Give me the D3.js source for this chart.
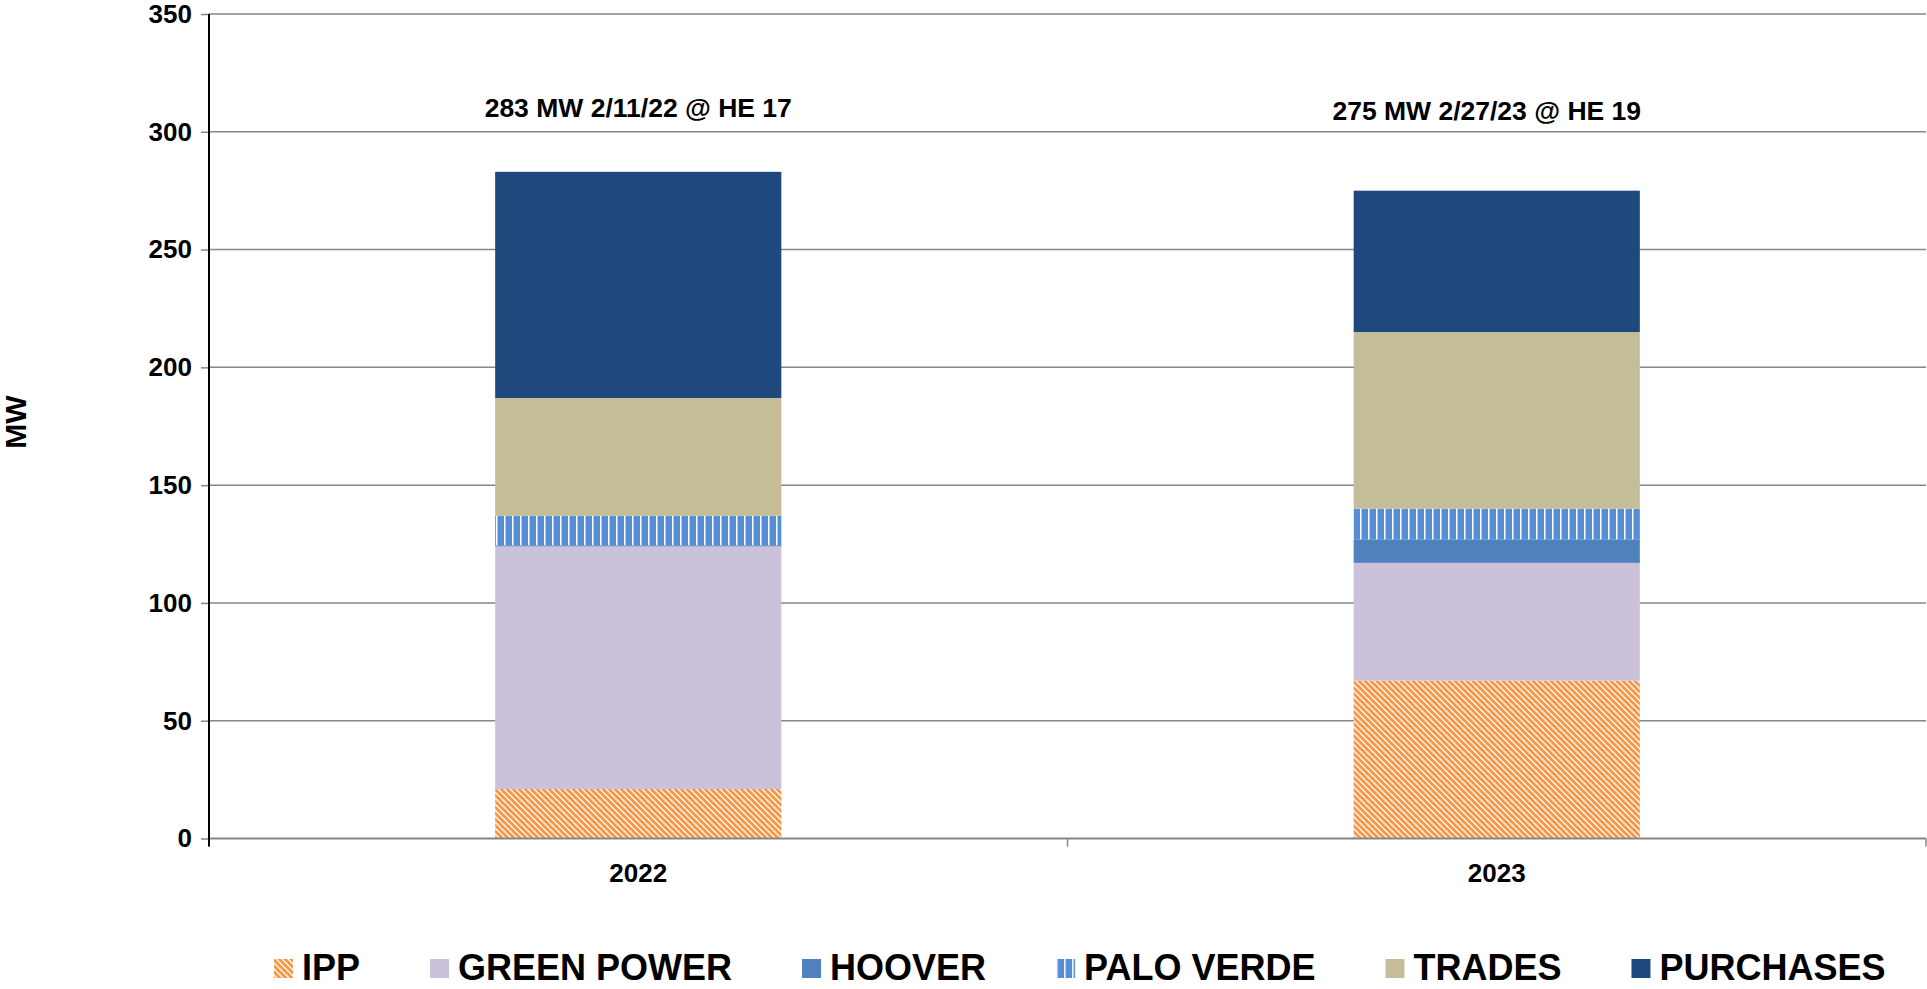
<!DOCTYPE html>
<html>
<head>
<meta charset="utf-8">
<script src="https://cdn.jsdelivr.net/npm/d3@7"></script>
<style>
  body { margin: 0; background: #fff; }
  svg text { font-family: Arial, "Liberation Sans", sans-serif; font-weight: bold; fill: #000; }
</style>
</head>
<body>
<div id="chart"></div>
<script>
// data
var years = ["2022", "2023"];
var series = ["IPP", "GREEN POWER", "HOOVER", "PALO VERDE", "TRADES", "PURCHASES"];
var ipp = [21, 67];
var greenPower = [103, 50];
var hoover = [0.5, 10];
var paloVerde = [12.5, 13];
var trades = [50, 75];
var purchases = [96, 60];
var peakLabels = ["283 MW 2/11/22 @ HE 17", "275 MW 2/27/23 @ HE 19"];
var yTicks = [0, 50, 100, 150, 200, 250, 300, 350];

var W = 1927, H = 989;
var margin = { top: 14, right: 1, bottom: 150, left: 209 };

var svg = d3.select("#chart").append("svg")
    .attr("width", W)
    .attr("height", H);

// patterns for IPP (diagonal) and Palo Verde (vertical bars)
var defs = svg.append("defs");
var diag = defs.append("pattern")
    .attr("id", "pat-ipp")
    .attr("patternUnits", "userSpaceOnUse")
    .attr("width", 6).attr("height", 6);
diag.append("rect").attr("width", 6).attr("height", 6).attr("fill", "#fff");
diag.append("path")
    .attr("d", "M-1,-1 L7,7 M-4,2 L2,8 M4,-2 L8,2")
    .attr("stroke", "#F79646").attr("stroke-width", 3);

var vert = defs.append("pattern")
    .attr("id", "pat-pv")
    .attr("patternUnits", "userSpaceOnUse")
    .attr("width", 8).attr("height", 8);
vert.append("rect").attr("width", 8).attr("height", 8).attr("fill", "#fff");
vert.append("rect").attr("x", 1.5).attr("width", 6.5).attr("height", 8).attr("fill", "#558ED5");

var colors = {
    "IPP": "url(#pat-ipp)",
    "GREEN POWER": "#CCC1DA",
    "HOOVER": "#4F81BD",
    "PALO VERDE": "url(#pat-pv)",
    "TRADES": "#C4BD97",
    "PURCHASES": "#1F497D"
};

var table = years.map(function (y, i) {
    return {
        year: y,
        "IPP": ipp[i],
        "GREEN POWER": greenPower[i],
        "HOOVER": hoover[i],
        "PALO VERDE": paloVerde[i],
        "TRADES": trades[i],
        "PURCHASES": purchases[i]
    };
});

var stacked = d3.stack().keys(series)(table);

var x = d3.scaleBand()
    .domain(years)
    .range([margin.left, W - margin.right])
    .paddingInner(2 / 3)
    .paddingOuter(1 / 3);

var y = d3.scaleLinear()
    .domain([0, 350])
    .range([H - margin.bottom - 0.5, margin.top]);

// gridlines
svg.append("g")
    .selectAll("line")
    .data(yTicks.filter(function (d) { return d > 0; }))
    .join("line")
    .attr("x1", margin.left).attr("x2", W - margin.right)
    .attr("y1", function (d) { return y(d); })
    .attr("y2", function (d) { return y(d); })
    .attr("stroke", "#868686")
    .attr("stroke-width", 1.5);

// bars
svg.append("g")
    .selectAll("g")
    .data(stacked)
    .join("g")
    .attr("fill", function (d) { return colors[d.key]; })
    .selectAll("rect")
    .data(function (d) { return d; })
    .join("rect")
    .attr("x", function (d) { return x(d.data.year); })
    .attr("width", x.bandwidth())
    .attr("y", function (d) { return y(d[1]); })
    .attr("height", function (d) { return y(d[0]) - y(d[1]); });

// x axis
var xAxisY = y(0);
var bandStep = x.step();
var xTickPos = d3.range(years.length + 1).map(function (i) { return margin.left + i * bandStep; });
svg.append("line")
    .attr("x1", margin.left).attr("x2", W - margin.right)
    .attr("y1", xAxisY).attr("y2", xAxisY)
    .attr("stroke", "#868686").attr("stroke-width", 2);
svg.append("g")
    .selectAll("line")
    .data(xTickPos)
    .join("line")
    .attr("x1", function (d) { return d; }).attr("x2", function (d) { return d; })
    .attr("y1", xAxisY).attr("y2", xAxisY + 8)
    .attr("stroke", "#868686").attr("stroke-width", 1.5);

svg.append("g")
    .selectAll("text")
    .data(years)
    .join("text")
    .attr("x", function (d) { return x(d) + x.bandwidth() / 2; })
    .attr("y", 882)
    .attr("text-anchor", "middle")
    .style("font-size", "26px")
    .text(function (d) { return d; });

// y axis
var yAxis = d3.axisLeft(y).tickValues(yTicks).tickSize(8).tickPadding(9);
var yG = svg.append("g")
    .attr("transform", "translate(" + margin.left + ",0)")
    .call(yAxis);
yG.select(".domain").remove();
yG.selectAll(".tick line").attr("stroke", "#868686").attr("stroke-width", 1.5);
yG.selectAll(".tick text")
    .style("font-size", "26px")
    .style("font-family", "Arial, 'Liberation Sans', sans-serif")
    .style("font-weight", "bold")
    .attr("fill", "#000");
svg.append("line")
    .attr("x1", margin.left).attr("x2", margin.left)
    .attr("y1", margin.top).attr("y2", xAxisY + 8)
    .attr("stroke", "#000").attr("stroke-width", 2);

svg.append("text")
    .attr("transform", "translate(26,422) rotate(-90)")
    .attr("text-anchor", "middle")
    .style("font-size", "30px")
    .text("MW");

// peak annotations
var annY = [117, 120];
svg.append("g")
    .selectAll("text")
    .data(peakLabels)
    .join("text")
    .attr("x", function (d, i) { return x(years[i]) + x.bandwidth() / 2 - (i === 1 ? 10 : 0); })
    .attr("y", function (d, i) { return annY[i]; })
    .attr("text-anchor", "middle")
    .style("font-size", "26.5px")
    .text(function (d) { return d; });

// legend
var legend = svg.append("g").attr("transform", "translate(274,0)");
var lx = 0;
series.forEach(function (s) {
    var g = legend.append("g").attr("transform", "translate(" + lx + ",0)");
    g.append("rect")
        .attr("x", 0).attr("y", 959)
        .attr("width", 19).attr("height", 19)
        .attr("fill", colors[s]);
    var t = g.append("text")
        .attr("x", 28).attr("y", 980)
        .style("font-size", "36px")
        .text(s);
    lx += 28 + t.node().getComputedTextLength() + 70;
});
</script>
</body>
</html>
